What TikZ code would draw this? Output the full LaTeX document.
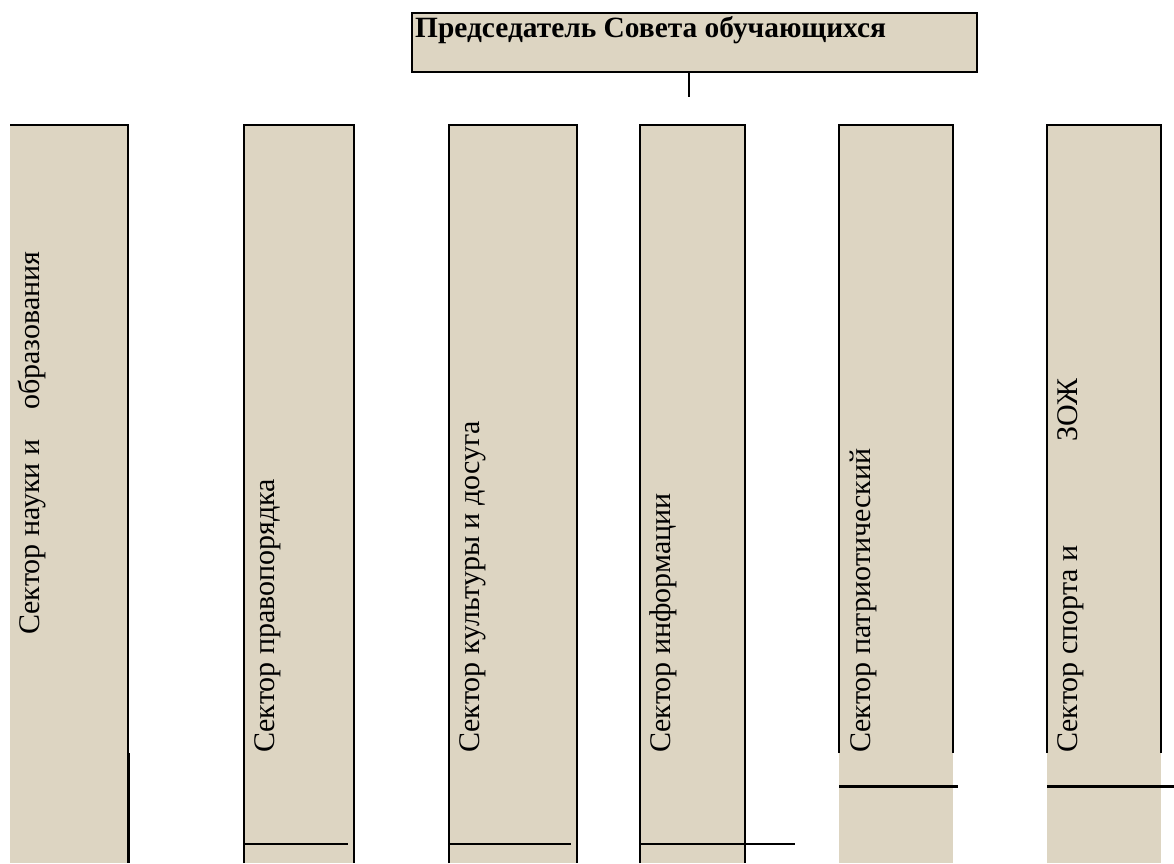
\documentclass[tikz,border=0pt]{standalone}
\usepackage{fontspec}
\setmainfont{Liberation Serif}
\definecolor{sectorfill}{RGB}{221,213,194}
\tikzset{
	sector/.style={fill=sectorfill},
	sectorline/.style={line width=1.3pt},
	boldline/.style={line width=3pt},
	sectorlabel/.style={rotate=90,anchor=base west,inner sep=0pt,font=\rmfamily\fontsize{30}{36}\selectfont},
}
\begin{document}
\begin{tikzpicture}[x=1pt,y=-1pt]
	\useasboundingbox (0,0) rectangle (1174,863);
	\node[draw,line width=1.6pt,fill=sectorfill,minimum width=565pt,minimum height=59pt,inner sep=0pt] (chair) at (694.5,42.5) {};
	\node[anchor=base west,inner sep=0pt,font=\rmfamily\bfseries\fontsize{29.4}{35}\selectfont] (chairlabel) at (415,37) {Председатель Совета обучающихся};
	\coordinate (stub) at (689,97);
	\draw[sectorline] (chair.south -| stub) -- (stub);
	\fill[sector] (10,125) rectangle (128,863);
	\draw[sectorline] (10,125) -- (128,125) -- (128,753);
	\draw[boldline] (128,753) -- (128,863);
	\node[sectorlabel] (science) at (39,635) {Сектор науки и\hspace{30pt}образования};
	\fill[sector] (244,125) rectangle (354,863);
	\draw[sectorline] (244,863) -- (244,125) -- (354,125) -- (354,863);
	\draw[sectorline] (244,844) -- (348,844);
	\node[sectorlabel] (law) at (274,753) {Сектор правопорядка};
	\fill[sector] (449,125) rectangle (577,863);
	\draw[sectorline] (449,863) -- (449,125) -- (577,125) -- (577,863);
	\draw[sectorline] (449,844) -- (571,844);
	\node[sectorlabel] (culture) at (479,753) {Сектор культуры и досуга};
	\fill[sector] (640,125) rectangle (745,863);
	\draw[sectorline] (640,863) -- (640,125) -- (745,125) -- (745,863);
	\draw[sectorline] (640,844) -- (795,844);
	\node[sectorlabel] (info) at (670,753) {Сектор информации};
	\fill[sector] (839,125) rectangle (953,863);
	\draw[sectorline] (839,753) -- (839,125) -- (953,125) -- (953,753);
	\draw[boldline] (839,786) -- (958,786);
	\node[sectorlabel] (patriot) at (870,753) {Сектор патриотический};
	\fill[sector] (1047,125) rectangle (1161,863);
	\draw[sectorline] (1047,753) -- (1047,125) -- (1161,125) -- (1161,753);
	\draw[boldline] (1047,786) -- (1174,786);
	\node[sectorlabel] (sport) at (1077,753) {Сектор спорта и\hspace{104pt}ЗОЖ};
\end{tikzpicture}
\end{document}
